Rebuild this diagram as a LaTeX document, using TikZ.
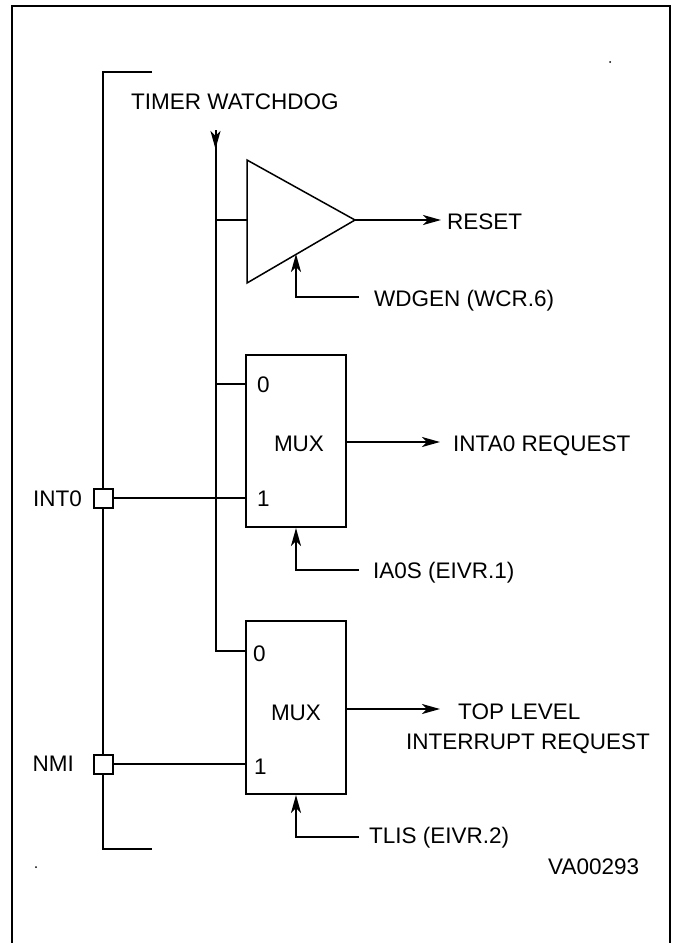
\documentclass[tikz,border=0pt]{standalone}
\usepackage{fontspec}
\setmainfont{Liberation Sans}
\usetikzlibrary{arrows.meta}
\tikzset{
  wire/.style={line width=2pt},
  signal/.style={wire,-{Stealth[length=18pt,width=10pt,inset=5pt]}},
  label/.style={anchor=west,inner sep=0pt,text height=16pt,text depth=0pt,font=\fontsize{22.5}{27}\selectfont},
  muxbox/.style={draw,line width=2pt,minimum width=100pt,minimum height=172pt,inner sep=0pt},
  pinbox/.style={draw,fill=white,line width=2pt,minimum size=19pt,inner sep=0pt}
}

\begin{document}
\begin{tikzpicture}[x=1pt,y=-1pt]
    \useasboundingbox (0,0) rectangle (675,943);
    \draw[wire] (12,943) -- (12,6) -- (670,6) -- (670,943);
    \fill (610,62) circle (1pt);
    \fill (36,867) circle (1pt);

    \coordinate (bustop) at (152,72);
    \coordinate (buscorner) at (103,72);
    \coordinate (busbend) at (103,849);
    \coordinate (busend) at (152,849);
    \draw[wire] (bustop) -- (buscorner) -- (busbend) -- (busend);

    \node[pinbox] (pina) at (103,498) {};
    \node[pinbox] (pinb) at (103,764) {};
    \node[label,anchor=east] (inta) at (82,498) {INT0};
    \node[label,anchor=east] (nmi) at (74,763) {NMI};

    \node[label] (watchdog) at (131,101) {TIMER WATCHDOG};
    \coordinate (wdtop) at (215.5,130);
    \coordinate (wdmid) at (215.5,140);
    \coordinate (wdarrow) at (215.5,149);
    \coordinate (wdbend) at (215.5,651);

    % output stage
    \coordinate (gateup) at (247,160);
    \coordinate (gatedown) at (247,283);
    \coordinate (gatetip) at (355,220);
    \draw[line width=1.5pt,line join=miter] (gateup) -- (gatetip) -- (gatedown) -- cycle;
    \node[label] (reset) at (447,221) {RESET};
    \node[label] (wdgen) at (374,298) {WDGEN (WCR.6)};
    \coordinate (gateen) at (296,254);

    \node[muxbox] (muxa) at (296,441) {};
    \node[muxbox,minimum height=173pt] (muxb) at (296,707.5) {};
    \node[label,anchor=center] (muxatext) at (299,443) {MUX};
    \node[label,anchor=center] (muxbtext) at (296,712) {MUX};
    \node[label] (azero) at (257,384) {0};
    \node[label] (aone) at (257,498) {1};
    \node[label] (bzero) at (253,653) {0};
    \node[label] (bone) at (254,766) {1};

    \node[label] (inta0) at (453,443) {INTA0 REQUEST};
    \node[label] (ia0s) at (373,570) {IA0S (EIVR.1)};
    \node[label] (toplevel) at (458,711) {TOP LEVEL};
    \node[label] (intreq) at (406,741) {INTERRUPT REQUEST};
    \node[label] (tlis) at (369,835) {TLIS (EIVR.2)};
    \node[label] (vacode) at (548,866) {VA00293};

    \draw[signal] (wdtop) -- (wdarrow);
    \draw[wire] (wdmid) -- (wdbend) -- (wdbend -| muxb.west);
    \draw[wire] (wdmid |- gatetip) -- (gateup |- gatetip);
    \draw[wire] (wdmid |- azero) -- (azero -| muxa.west);
    \draw[wire] (pina) -- (pina -| muxa.west);
    \draw[wire] (pinb) -- (pinb -| muxb.west);

    \draw[signal] (gatetip) -- (441,220);
    \draw[signal] (muxa.east |- 0,442) -- (440,442);
    \draw[signal] (muxb.east |- 0,709) -- (440,709);

    \draw[signal] (359,297) -- (296,297) -- (gateen);
    \draw[signal] (359,570) -- (296,570) -- (muxa.south);
    \draw[signal] (359,837) -- (296,837) -- (muxb.south);
\end{tikzpicture}
\end{document}
